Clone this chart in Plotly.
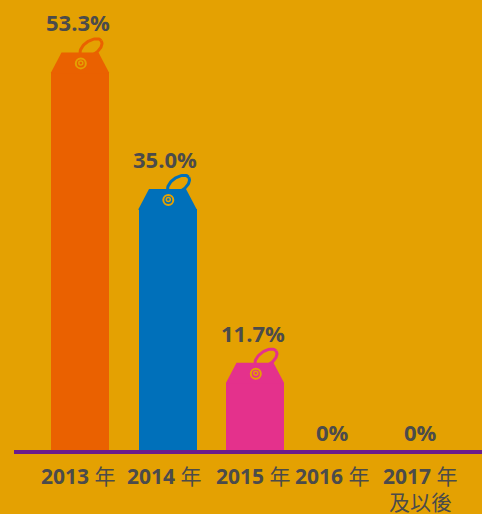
import math
import plotly.graph_objects as go

# ---------------- data ----------------
categories = ["2013", "2014", "2015", "2016", "2017"]
tick_labels = ["<b>2013</b> 年", "<b>2014</b> 年", "<b>2015</b> 年", "<b>2016</b> 年", "<b>2017</b> 年<br>及以後"]
values = [53.3, 35.0, 11.7, 0.0, 0.0]
value_labels = ["53.3%", "35.0%", "11.7%", "0%", "0%"]

# ---------------- style ----------------
bar_colors = ["#EA6100", "#0070BA", "#E4318C", "#E4318C", "#E4318C"]
BG = "#E4A102"
TEXT = "#4B4B4B"
PURPLE = "#6C1D8C"
FONT = "Open Sans, Noto Sans CJK TC, sans-serif"
label_xshift = [-2, -3, -2, -10, -10]

W, H = 482, 514
ML, MR, MT, MB = 0, 0, 0, 60
PX_X = 87.5               # pixels per category
PX_Y = 7.46               # pixels per percent
X0 = -80 / PX_X
X1 = X0 + (W - ML - MR) / PX_X
Y0 = -4 / PX_Y
Y1 = Y0 + (H - MT - MB) / PX_Y

def dx(px):
    return px / PX_X

def dy(px):
    return px / PX_Y

BAR_W = dx(58)
HALF = BAR_W / 2
TOP_HALF = dx(18.5)
CHAMFER = dy(20)

xs = list(range(len(categories)))
fig = go.Figure()

# tag loops (drawn first, under the tag)
for i, v in zip(xs, values):
    if v <= 0:
        continue
    cx, cy = 11.0, 4.5  # pixel offset of loop ellipse centre from tag top centre
    a, b, ang = 12.5, 7.0, math.radians(35)
    ux, uy = math.cos(ang), math.sin(ang)
    vx, vy = math.sin(ang), -math.cos(ang)
    lx, ly = [], []
    for k in range(73):
        t = 2 * math.pi * k / 72
        px = cx + a * math.cos(t) * ux + b * math.sin(t) * vx
        py = cy + a * math.cos(t) * uy + b * math.sin(t) * vy
        lx.append(i + dx(px))
        ly.append(v + dy(py))
    fig.add_trace(go.Scatter(x=lx, y=ly, mode="lines",
                             line=dict(color=bar_colors[i], width=3),
                             hoverinfo="skip", showlegend=False))

# tag bodies
fig.add_trace(go.Bar(
    x=xs,
    y=[max(v - CHAMFER, 0) for v in values],
    width=BAR_W,
    marker=dict(color=bar_colors, line=dict(width=0)),
    hoverinfo="skip", showlegend=False,
))

# tag heads
for i, v in zip(xs, values):
    if v <= 0:
        continue
    base = v - CHAMFER - dy(1)
    px = [i - HALF, i - HALF, i - TOP_HALF, i + TOP_HALF, i + HALF, i + HALF, i - HALF]
    py = [base, v - CHAMFER, v, v, v - CHAMFER, base, base]
    fig.add_trace(go.Scatter(x=px, y=py, mode="lines", fill="toself",
                             fillcolor=bar_colors[i], line=dict(width=0, color=bar_colors[i]),
                             hoverinfo="skip", showlegend=False))

# holes
hx = [i + dx(0.8) for i, v in zip(xs, values) if v > 0]
hy = [v - dy(11) for v in values if v > 0]
fig.add_trace(go.Scatter(x=hx, y=hy, mode="markers",
                         marker=dict(symbol="circle-open", size=10, color=BG, line=dict(width=2, color=BG)),
                         hoverinfo="skip", showlegend=False))
fig.add_trace(go.Scatter(x=hx, y=[y + dy(0.5) for y in hy], mode="markers",
                         marker=dict(symbol="circle-open", size=4, color=BG, line=dict(width=1.5, color=BG)),
                         hoverinfo="skip", showlegend=False))

# value labels
for i, (v, lab) in enumerate(zip(values, value_labels)):
    fig.add_annotation(x=i, y=v, text=f"<b>{lab}</b>", showarrow=False,
                       yanchor="bottom", xanchor="center",
                       yshift=13 if v > 0 else 1, xshift=label_xshift[i],
                       font=dict(family=FONT, size=22, color=TEXT))

# category labels (one annotation per line)
for i, lab in enumerate(tick_labels):
    for k, line in enumerate(lab.split("<br>")):
        fig.add_annotation(x=i, y=0, text=line, showarrow=False,
                           yanchor="top", xanchor="center", yshift=-10 - 26 * k,
                           xshift=label_xshift[i],
                           font=dict(family=FONT, size=21, color=TEXT))

# baseline
fig.add_shape(type="line", xref="paper", yref="y", x0=14 / W, x1=1, y0=-dy(2), y1=-dy(2),
              line=dict(color=PURPLE, width=4))

fig.update_layout(
    width=W, height=H,
    margin=dict(l=ML, r=MR, t=MT, b=MB),
    paper_bgcolor=BG, plot_bgcolor=BG,
    xaxis=dict(range=[X0, X1], visible=False, fixedrange=True),
    yaxis=dict(range=[Y0, Y1], visible=False, fixedrange=True),
    bargap=0, showlegend=False,
)

fig.write_html("out.html", config={"displayModeBar": False},
               post_script="document.body.style.margin='0px';document.body.style.overflow='hidden';document.body.style.background='" + BG + "';")
